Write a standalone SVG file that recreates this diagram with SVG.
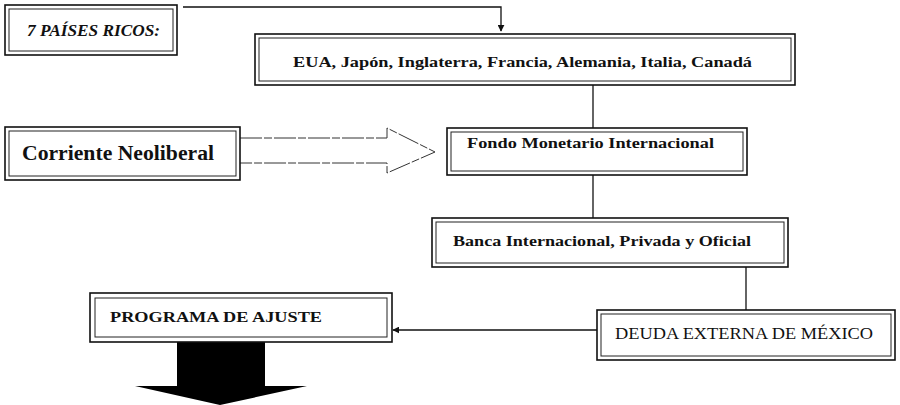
<svg xmlns="http://www.w3.org/2000/svg" width="900" height="405" viewBox="0 0 900 405">
<style>
.o{fill:#fff;stroke:#111;stroke-width:1.6}
.i{fill:none;stroke:#222;stroke-width:1}
.t{font-family:"Liberation Serif","Times New Roman",serif;fill:#111}
.b{font-weight:bold}
.c{stroke:#111;stroke-width:1.3;fill:none}
</style>
<defs>
<marker id="ah" viewBox="0 0 10 10" refX="9" refY="5" markerWidth="7" markerHeight="7" orient="auto-start-reverse" markerUnits="userSpaceOnUse">
<path d="M0,0 L10,5 L0,10 z" fill="#111"/>
</marker>
</defs>
<g id="connectors">
<path class="c" d="M183,7 H501 V31" marker-end="url(#ah)"/>
<path class="c" d="M593,85 V128"/>
<path class="c" d="M593,175 V218"/>
<path class="c" d="M746,267 V310"/>
<path class="c" d="M597,330 H393" marker-end="url(#ah)"/>
<path d="M240,138 H387 V128 L435,152 L387,173 V163 H240" fill="none" stroke="#333" stroke-width="1" stroke-dasharray="22 2 8 2"/>
<path d="M177,342 H265 V386 H307 L220,405 L135,386 H177 Z" fill="#000"/>
</g>
<g id="paises">
<rect class="o" x="5" y="5" width="172" height="50"/>
<rect class="i" x="9" y="9" width="164" height="42"/>
<text class="t b" x="27" y="36" font-size="16" font-style="italic" textLength="133" lengthAdjust="spacingAndGlyphs">7 PAÍSES RICOS:</text>
</g>
<g id="eua">
<rect class="o" x="255" y="34" width="540" height="51"/>
<rect class="i" x="259" y="38" width="532" height="43"/>
<text class="t b" x="293" y="67" font-size="15" textLength="459" lengthAdjust="spacingAndGlyphs">EUA, Japón, Inglaterra, Francia, Alemania, Italia, Canadá</text>
</g>
<g id="neoliberal">
<rect class="o" x="5" y="127" width="235" height="53"/>
<rect class="i" x="9" y="131" width="227" height="45"/>
<text class="t b" x="22" y="160" font-size="20" textLength="192" lengthAdjust="spacingAndGlyphs">Corriente Neoliberal</text>
</g>
<g id="fmi">
<rect class="o" x="447" y="128" width="300" height="47"/>
<rect class="i" x="451" y="132" width="292" height="39"/>
<text class="t b" x="467" y="148" font-size="15" textLength="247" lengthAdjust="spacingAndGlyphs">Fondo Monetario Internacional</text>
</g>
<g id="banca">
<rect class="o" x="432" y="218" width="356" height="49"/>
<rect class="i" x="436" y="222" width="348" height="41"/>
<text class="t b" x="453" y="246" font-size="15" textLength="298" lengthAdjust="spacingAndGlyphs">Banca Internacional, Privada y Oficial</text>
</g>
<g id="deuda">
<rect class="o" x="597" y="310" width="298" height="50"/>
<rect class="i" x="601" y="314" width="290" height="42"/>
<text class="t" x="615" y="339" font-size="17" textLength="258" lengthAdjust="spacingAndGlyphs">DEUDA EXTERNA DE MÉXICO</text>
</g>
<g id="programa">
<rect class="o" x="90" y="293" width="302" height="49" stroke-width="2.2"/>
<rect class="i" x="95" y="298" width="292" height="39"/>
<text class="t b" x="110" y="322" font-size="14" textLength="212" lengthAdjust="spacingAndGlyphs">PROGRAMA DE AJUSTE</text>
</g>
</svg>
